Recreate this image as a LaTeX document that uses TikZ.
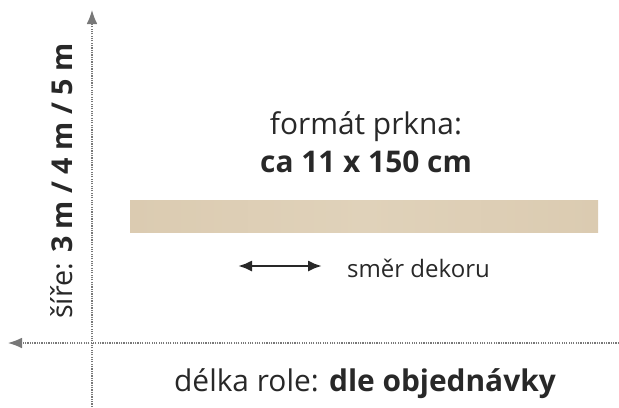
\documentclass[tikz,border=0pt]{standalone}
\usepackage{fontspec}
\setmainfont{Open Sans}
\usetikzlibrary{arrows, arrows.meta, positioning}
\definecolor{plank}{RGB}{224,210,186}
\definecolor{plankdark}{RGB}{219,203,177}
\definecolor{axisgray}{RGB}{120,120,120}
\definecolor{inkgray}{RGB}{40,40,40}

\begin{document}
\begin{tikzpicture}[>=latex, x=0.03cm, y=-0.03cm, every node/.style={text=inkgray}]
  \useasboundingbox (0,0) rectangle (619,407);
  \coordinate (vtop) at (92,10);
  \coordinate (vbot) at (92,407);
  \coordinate (hleft) at (8,343);
  \coordinate (hright) at (619,343);

  \draw[-{Latex[length=4.2mm,width=3.2mm]}, axisgray, densely dotted, line width=1pt] (vbot) -- (vtop);
  \draw[-{Latex[length=4.2mm,width=3.2mm]}, axisgray, densely dotted, line width=1pt] (hright) -- (hleft);

  \node[left color=plankdark, right color=plankdark, middle color=plank, minimum width=468*0.03cm, minimum height=32*0.03cm, inner sep=0pt] (plank) at (364,216) {};

  \node[font=\fontsize{25.5}{28}\selectfont] (title) at (366,127) {formát prkna:};
  \node[font=\fontsize{25.5}{28}\selectfont\bfseries] (size) at (366,162) {ca 11 x 150 cm};

  \coordinate (decl) at (238,266);
  \coordinate (decr) at (322,266);
  \draw[{Latex[length=4.2mm,width=3.4mm]}-{Latex[length=4.2mm,width=3.4mm]}, line width=2.4pt, inkgray] (decl) -- (decr);
  \node[font=\fontsize{20.5}{24}\selectfont, anchor=west] (dir) at (343,268) {směr dekoru};

  \node[font=\fontsize{24.5}{28}\selectfont, rotate=90] (width) at (62,181) {šíře: \textbf{3 m / 4 m / 5 m}};
  \node[font=\fontsize{25.5}{28}\selectfont] (length) at (365,384) {délka role: \textbf{dle objednávky}};
\end{tikzpicture}
\end{document}
